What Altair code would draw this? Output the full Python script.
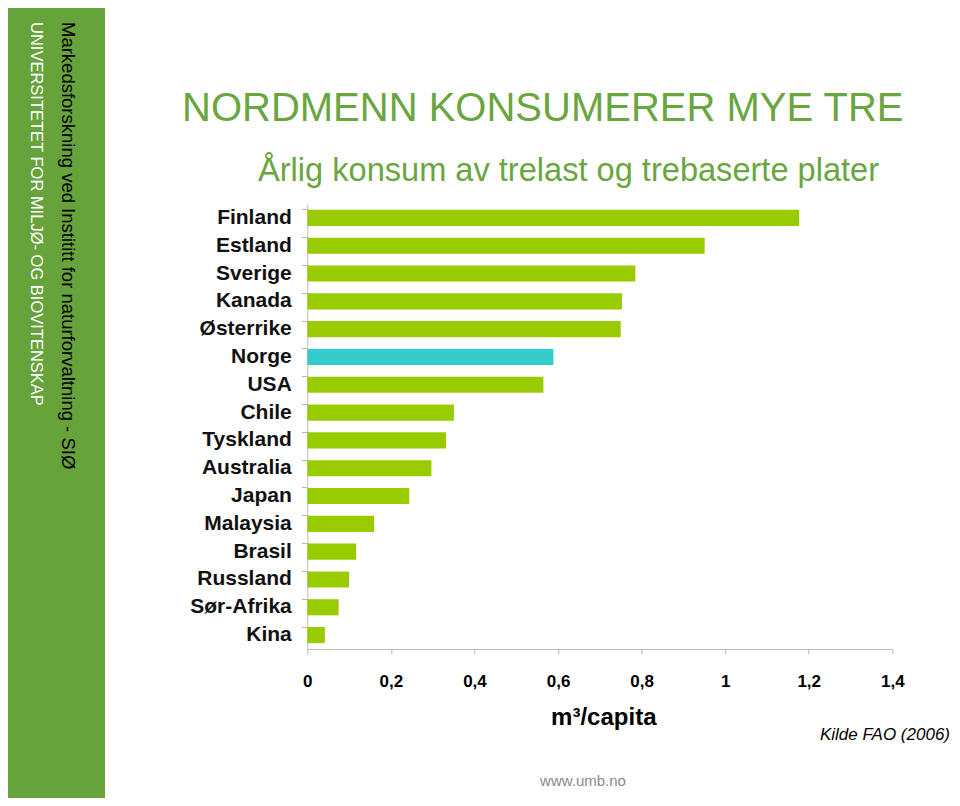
import altair as alt
import pandas as pd

# ---- data ----
countries = ["Finland", "Estland", "Sverige", "Kanada", "Østerrike", "Norge", "USA",
             "Chile", "Tyskland", "Australia", "Japan", "Malaysia", "Brasil",
             "Russland", "Sør-Afrika", "Kina"]
values = [1.177, 0.951, 0.785, 0.753, 0.750, 0.589, 0.565, 0.351, 0.332, 0.297,
          0.244, 0.160, 0.117, 0.100, 0.075, 0.042]
highlight = ["Norge"]
x_ticks = [0, 0.2, 0.4, 0.6, 0.8, 1.0, 1.2, 1.4]

title_text = "NORDMENN KONSUMERER MYE TRE"
subtitle_text = "Årlig konsum av trelast og trebaserte plater"
side_text_1 = "Markedsforskning ved Instititt for naturforvaltning - SIØ"
side_text_2 = "UNIVERSITETET FOR MILJØ- OG BIOVITENSKAP"
source_text = "Kilde FAO (2006)"
web_text = "www.umb.no"
axis_title = "m³/capita"

df = pd.DataFrame({
    "land": countries,
    "verdi": values,
    "gruppe": ["Norge" if c in highlight else "Andre" for c in countries],
})
one = pd.DataFrame({"k": [0]})

# layout (page coordinates of plot origin)
P = 307.3
T = 204.0
W = 585
H = 445
FONT = "Liberation Sans"
GREEN = "#6aa63f"

side = alt.Chart(one).mark_rect(color="#66a33a").encode(
    x=alt.value(0 - P), x2=alt.value(105 - P),
    y=alt.value(0 - T), y2=alt.value(806 - T),
)

bars = alt.Chart(df).mark_bar().encode(
    y=alt.Y("land:N", sort=countries,
            scale=alt.Scale(paddingInner=0.42, paddingOuter=0.21),
            axis=alt.Axis(title=None, labelFont=FONT, labelFontSize=21,
                          labelFontWeight="bold", labelColor="#111111",
                          labelPadding=10, tickSize=6, tickColor="#b8b8b8",
                          bandPosition=0, domainColor="#bdbdbd",
                          labelLimit=200)),
    x=alt.X("verdi:Q", scale=alt.Scale(domain=[0, 1.4], nice=False),
            axis=alt.Axis(values=x_ticks, title=axis_title,
                          labelExpr="replace(format(datum.value, '.1~f'), '.', ',')",
                          labelFont=FONT, labelFontSize=17, labelFontWeight="bold",
                          labelColor="#000000", labelPadding=19, tickSize=5,
                          tickColor="#b8b8b8", domainColor="#bdbdbd", grid=False,
                          labelFlush=False,
                          titleFont=FONT, titleFontSize=24, titleFontWeight="bold",
                          titleColor="#000000", titleX=296, titleY=75,
                          titleBaseline="alphabetic", titleAlign="center")),
    color=alt.Color("gruppe:N",
                    scale=alt.Scale(domain=["Andre", "Norge"], range=["#99cc00", "#33cccc"]),
                    legend=None),
)

def txt(text, px, py, size, color="#000000", align="left", baseline="alphabetic",
        angle=0, weight="normal", style="normal"):
    return alt.Chart(one).mark_text(
        text=text, font=FONT, fontSize=size, color=color, align=align,
        baseline=baseline, angle=angle, fontWeight=weight, fontStyle=style,
    ).encode(x=alt.value(px - P), y=alt.value(py - T))

title = txt(title_text, 182, 121, 40, color=GREEN)
subtitle = txt(subtitle_text, 258, 181, 32.6, color=GREEN)
s1 = txt(side_text_1, 68, 22, 18.5, color="#000000", baseline="middle", angle=90)
s2 = txt(side_text_2, 36, 22, 16.5, color="#ffffff", baseline="middle", angle=90)
src = txt(source_text, 950, 740, 17, color="#000000", align="right", style="italic")
web = txt(web_text, 583, 786, 15, color="#8a8a8a", align="center")

chart = alt.layer(side, bars, title, subtitle, s1, s2, src, web).properties(
    width=W, height=H,
    autosize=alt.AutoSizeParams(type="none"),
    padding={"left": P - 8, "top": T - 8, "right": 944 - (P - 8) - W,
             "bottom": 790 - (T - 8) - H},
    background="white",
).configure_view(stroke=None)

chart.save("out.html", embed_options={"renderer": "svg", "actions": False})
